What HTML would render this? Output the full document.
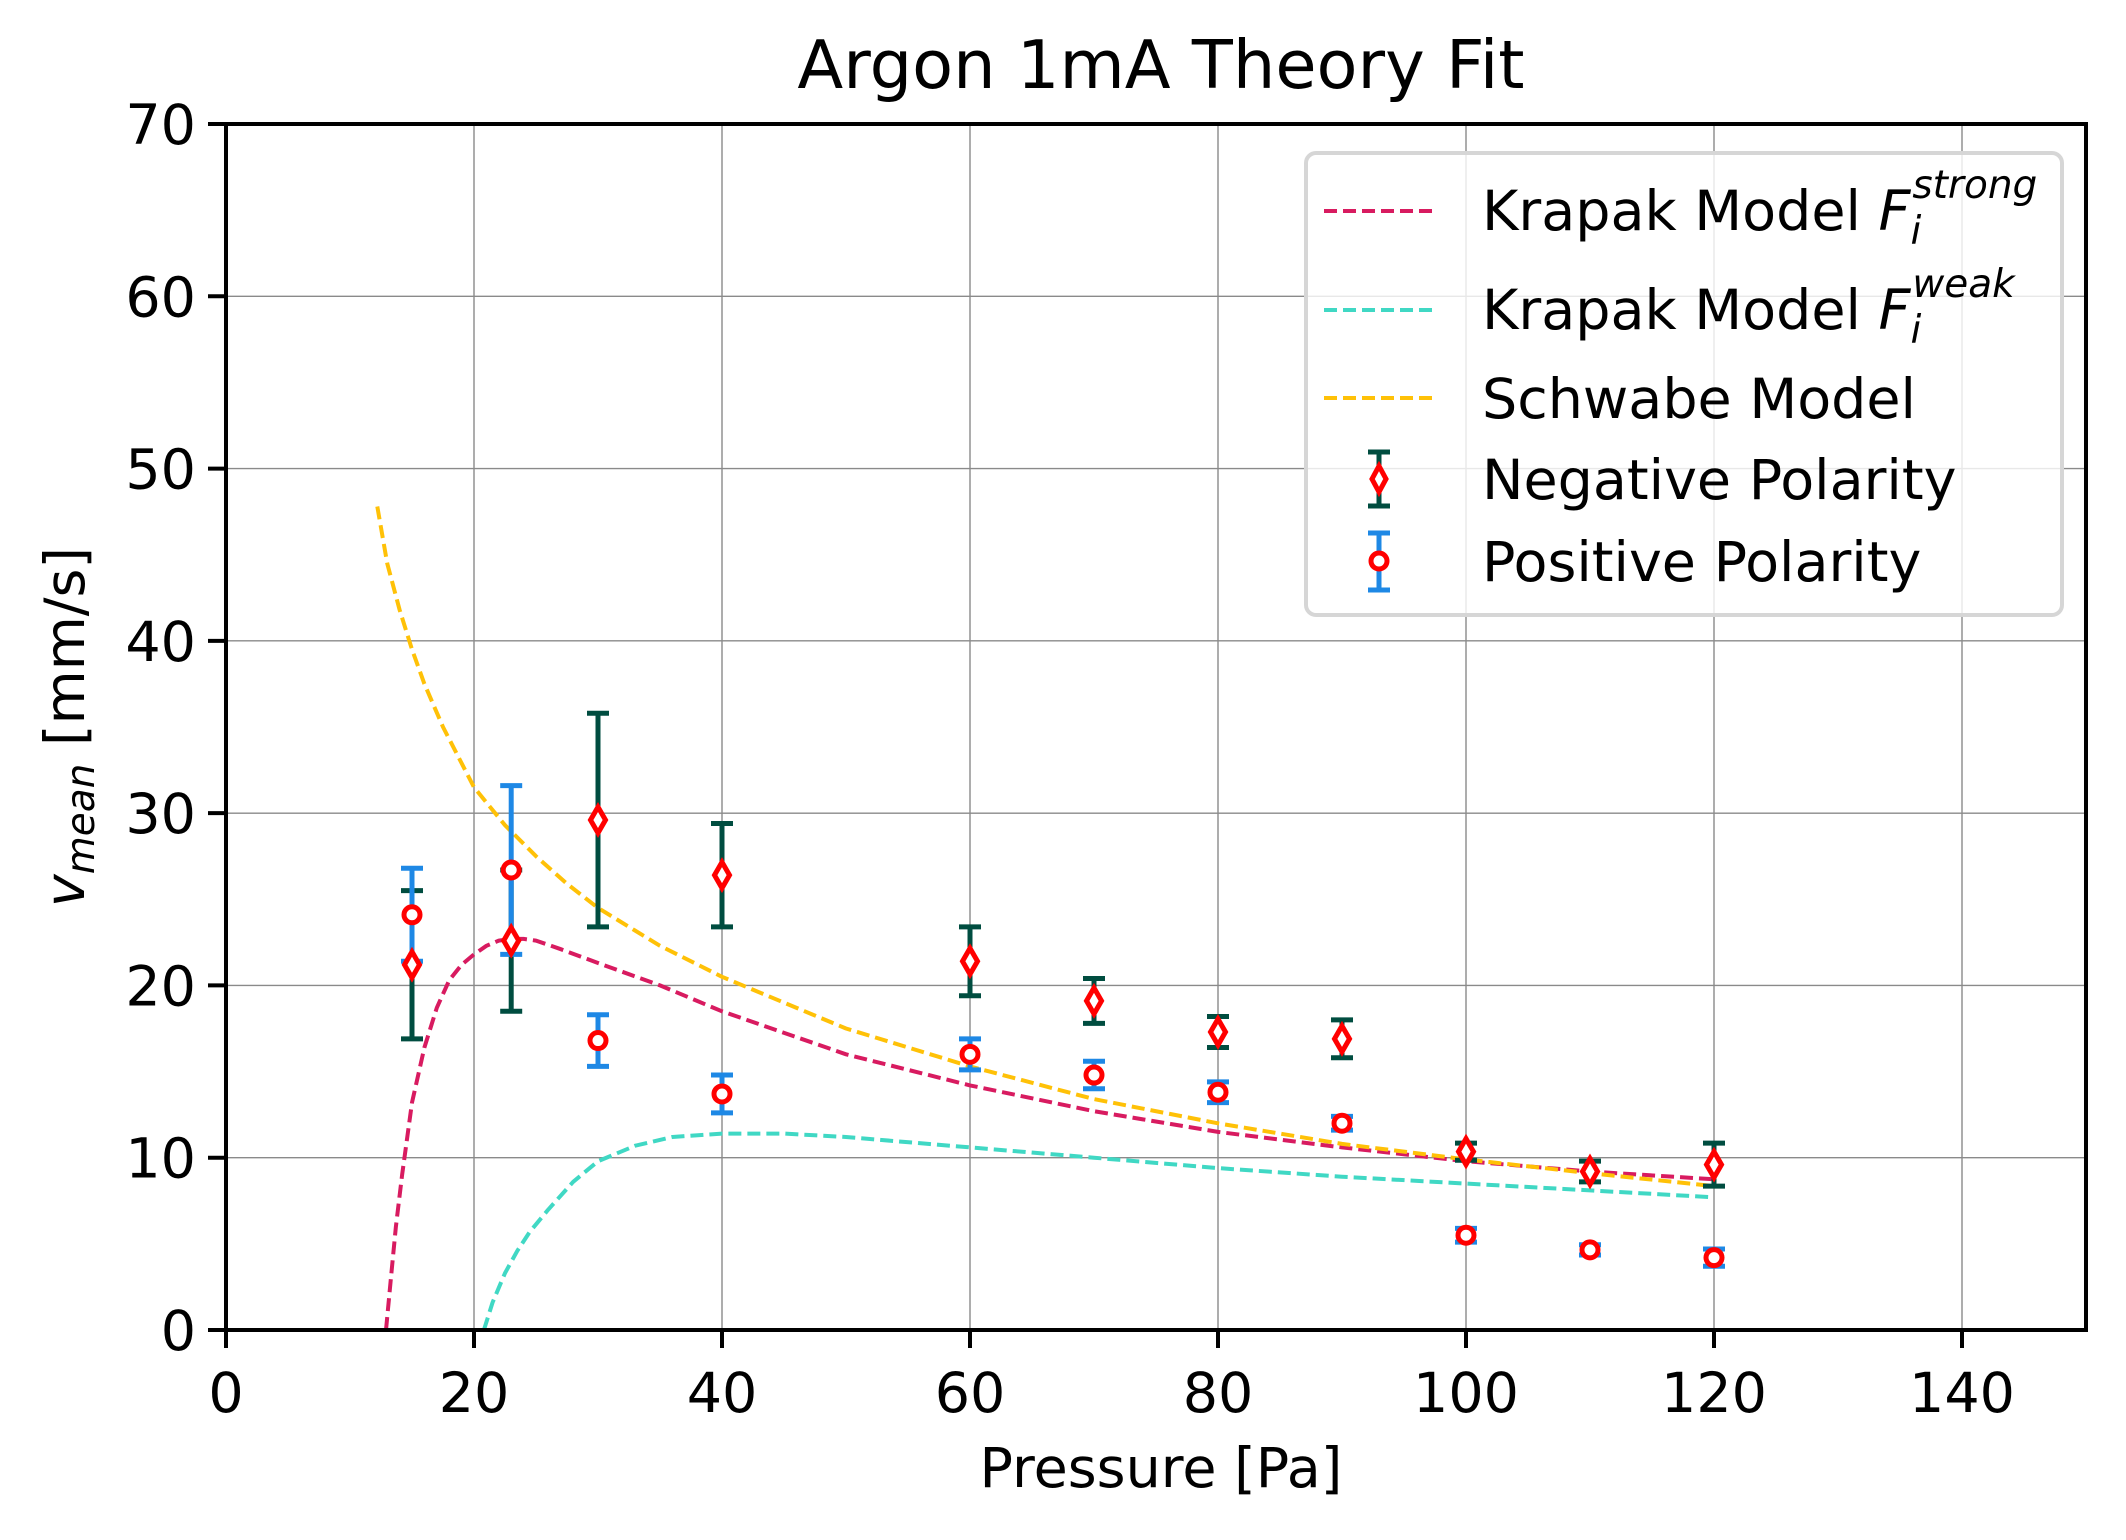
<!DOCTYPE html>
<html><head><meta charset="utf-8"><style>
html,body{margin:0;padding:0;background:#fff;}
svg{display:block;font-family:"DejaVu Sans","Liberation Sans",sans-serif;}
</style></head><body>
<svg id="chart" width="2126" height="1540" viewBox="0 0 2126 1540" xmlns="http://www.w3.org/2000/svg">
<rect x="0" y="0" width="2126" height="1540" fill="#fff"/>
<text x="1161" y="88" font-size="67" text-anchor="middle">Argon 1mA Theory Fit</text>
<g id="grid"></g>
<g id="curves"></g>
<g id="points"></g>
<rect x="226" y="124" width="1860" height="1206" fill="none" stroke="#000" stroke-width="4"/>
<g id="ticks"></g>
<text x="1161" y="1487" font-size="55.5" text-anchor="middle">Pressure [Pa]</text>
<text transform="translate(84,727) rotate(-90)" font-size="55.5" text-anchor="middle"><tspan font-style="italic">v</tspan><tspan font-style="italic" font-size="39" dy="10">mean</tspan><tspan dy="-10"> [mm/s]</tspan></text>
<g>
<rect x="1306" y="153" width="756" height="462" rx="10" fill="#fff" fill-opacity="0.8" stroke="#d6d6d6" stroke-width="4"/>
<g>
<line x1="1324" y1="211" x2="1434" y2="211" stroke="#d81b60" stroke-width="4" stroke-dasharray="13 6"/>
<text x="1482" y="230" font-size="55.5">Krapak Model <tspan font-style="italic">F</tspan><tspan font-style="italic" font-size="39" dy="14">i</tspan><tspan font-style="italic" font-size="39" dx="-9" dy="-46">strong</tspan></text>
</g>
<g>
<line x1="1324" y1="310" x2="1434" y2="310" stroke="#40d8c4" stroke-width="4" stroke-dasharray="13 6"/>
<text x="1482" y="329" font-size="55.5">Krapak Model <tspan font-style="italic">F</tspan><tspan font-style="italic" font-size="39" dy="14">i</tspan><tspan font-style="italic" font-size="39" dx="-9" dy="-46">weak</tspan></text>
</g>
<g>
<line x1="1324" y1="398" x2="1434" y2="398" stroke="#ffc107" stroke-width="4" stroke-dasharray="13 6"/>
<text x="1482" y="418" font-size="55.5">Schwabe Model</text>
</g>
<g>
<line x1="1379" y1="452" x2="1379" y2="506" stroke="#004d40" stroke-width="5"/>
<line x1="1368" y1="452" x2="1390" y2="452" stroke="#004d40" stroke-width="5"/>
<line x1="1368" y1="506" x2="1390" y2="506" stroke="#004d40" stroke-width="5"/>
<path d="M1379 466 L1386 479 L1379 492 L1372 479 Z" fill="#fff" stroke="#ff0000" stroke-width="5"/>
<text x="1482" y="499" font-size="55.5">Negative Polarity</text>
</g>
<g>
<line x1="1379" y1="533" x2="1379" y2="590" stroke="#1e88e5" stroke-width="5"/>
<line x1="1368" y1="533" x2="1390" y2="533" stroke="#1e88e5" stroke-width="5"/>
<line x1="1368" y1="590" x2="1390" y2="590" stroke="#1e88e5" stroke-width="5"/>
<circle cx="1379" cy="561" r="8" fill="#fff" stroke="#ff0000" stroke-width="5"/>
<text x="1482" y="581" font-size="55.5">Positive Polarity</text>
</g>
</g>
</svg>
<script>
const xTicks = [0,20,40,60,80,100,120,140];
const yTicks = [0,10,20,30,40,50,60,70];
const pressures = [15,23,30,40,60,70,80,90,100,110,120];
const negValues = [21.2,22.6,29.6,26.4,21.4,19.1,17.3,16.9,10.35,9.2,9.6];
const negErrors = [4.3,4.1,6.2,3.0,2.0,1.3,0.9,1.1,0.5,0.6,1.25];
const posValues = [24.1,26.7,16.8,13.7,16.0,14.8,13.8,12.0,5.5,4.65,4.2];
const posErrors = [2.7,4.9,1.5,1.1,0.9,0.8,0.6,0.4,0.4,0.3,0.5];
const strongX = [12.9,13.3,13.7,14.2,15,16,17,18,19,20,21,22,23,24,25,27,30,35,40,50,60,70,80,90,100,110,120];
const strongY = [0,3,6,9,13.2,16.4,18.7,20.3,21.2,21.8,22.3,22.6,22.7,22.7,22.6,22.1,21.3,20,18.5,16,14.2,12.7,11.5,10.6,9.8,9.2,8.75];
const weakX = [20.8,21.5,22.5,23.5,24.5,26,28,30,33,36,40,45,50,60,70,80,90,100,110,120];
const weakY = [0,1.6,3.3,4.6,5.7,7,8.6,9.8,10.7,11.2,11.4,11.4,11.2,10.6,10,9.4,8.9,8.5,8.1,7.7];
const schwabeX = [12.2,13,14,15,16,17.5,20,22.5,25,27.5,30,35,40,50,60,70,80,90,100,110,120];
const schwabeY = [47.8,44.5,41.8,39.5,37.5,35,31.5,29.3,27.5,25.9,24.5,22.3,20.5,17.5,15.3,13.4,12,10.8,9.9,9.1,8.35];

const X0=226, X1=2086, Y0=1330, Y1=124;
const sx = v => X0 + (v-0)/(150-0)*(X1-X0);
const sy = v => Y0 - (v-0)/(70-0)*(Y0-Y1);
const NS='http://www.w3.org/2000/svg';
function mk(tag, attrs, parent){const e=document.createElementNS(NS,tag);for(const k in attrs)e.setAttribute(k,attrs[k]);parent.appendChild(e);return e;}
const grid=document.getElementById('grid'), ticks=document.getElementById('ticks');
xTicks.forEach(t=>{
  let g=mk('line',{x1:sx(t),x2:sx(t),y1:Y0,y2:Y1,stroke:'#8a8a8a','stroke-width':1.4},grid);
  
  
  let tk=mk('line',{x1:sx(t),x2:sx(t),y1:Y0,y2:Y0+18,stroke:'#000','stroke-width':4},ticks);
  
  
  let tl=mk('text',{x:sx(t),y:Y0+82,'font-size':55.5,'text-anchor':'middle'},ticks);
  tl.textContent=t;
  
  
});
yTicks.forEach(t=>{
  let g=mk('line',{x1:X0,x2:X1,y1:sy(t),y2:sy(t),stroke:'#8a8a8a','stroke-width':1.4},grid);
  
  
  let tk=mk('line',{x1:X0-18,x2:X0,y1:sy(t),y2:sy(t),stroke:'#000','stroke-width':4},ticks);
  
  
  let tl=mk('text',{x:X0-30,y:sy(t)+20,'font-size':55.5,'text-anchor':'end'},ticks);
  tl.textContent=t;
  
  
});
const curves=document.getElementById('curves');
function curve(xs,ys,color,name){
  const d=xs.map((x,i)=>(i?'L':'M')+sx(x).toFixed(1)+' '+sy(ys[i]).toFixed(1)).join(' ');
  const p=mk('path',{d:d,fill:'none',stroke:color,'stroke-width':4,'stroke-dasharray':'13 6','stroke-linejoin':'round'},curves);
  
  
}
curve(strongX,strongY,'#d81b60','krapak-strong-curve');
curve(weakX,weakY,'#40d8c4','krapak-weak-curve');
curve(schwabeX,schwabeY,'#ffc107','schwabe-curve');
const pts=document.getElementById('points');
function errbar(x,v,e,color,name){
  const g=mk('g',{},pts);
  
  
  const cx=sx(x), yt=sy(v+e), yb=sy(v-e);
  mk('line',{x1:cx,x2:cx,y1:yt,y2:yb,stroke:color,'stroke-width':5},g);
  mk('line',{x1:cx-11,x2:cx+11,y1:yt,y2:yt,stroke:color,'stroke-width':5},g);
  mk('line',{x1:cx-11,x2:cx+11,y1:yb,y2:yb,stroke:color,'stroke-width':5},g);
}
pressures.forEach((p,i)=>{
  errbar(p,negValues[i],negErrors[i],'#004d40','negative-errorbar');
  errbar(p,posValues[i],posErrors[i],'#1e88e5','positive-errorbar');
});
pressures.forEach((p,i)=>{
  const cx=sx(p), cy=sy(negValues[i]);
  const d=mk('path',{d:`M${cx} ${cy-13} L${cx+7.5} ${cy} L${cx} ${cy+13} L${cx-7.5} ${cy} Z`,fill:'#fff',stroke:'#ff0000','stroke-width':5},pts);
  
  
  const c=mk('circle',{cx:cx,cy:sy(posValues[i]),r:8,fill:'#fff',stroke:'#ff0000','stroke-width':5},pts);
  
  
});
</script>
</body></html>
